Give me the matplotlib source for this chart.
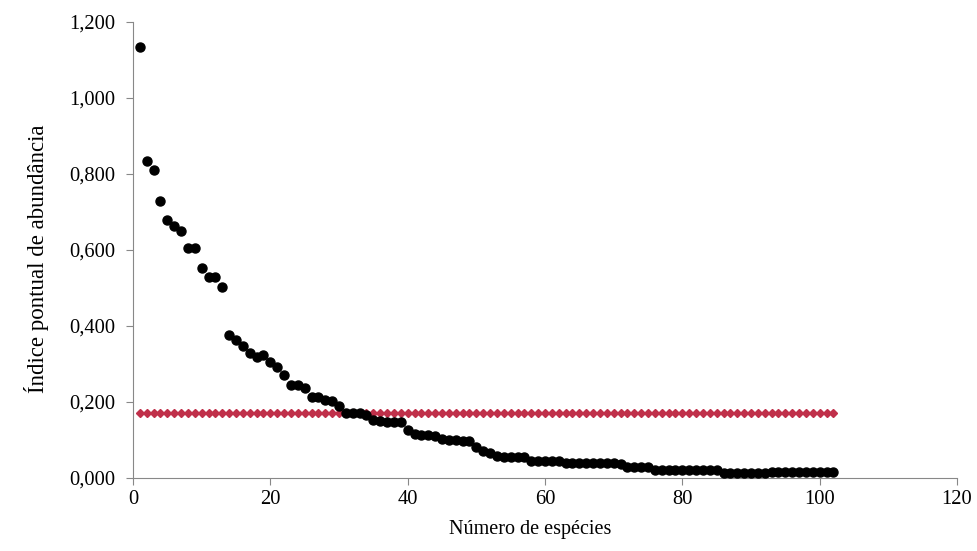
import matplotlib.pyplot as plt
from matplotlib.ticker import FuncFormatter

# species rank (1..102) and point abundance index
species = list(range(1, 103))
abundance = [
    1.135, 0.833, 0.810, 0.729, 0.678, 0.663, 0.650, 0.604, 0.604, 0.553,
    0.530, 0.530, 0.502, 0.377, 0.362, 0.347, 0.330, 0.319, 0.323, 0.306,
    0.292, 0.271, 0.245, 0.245, 0.236, 0.214, 0.213, 0.205, 0.203, 0.190,
    0.172, 0.171, 0.170, 0.165, 0.152, 0.150, 0.148, 0.148, 0.147, 0.127,
    0.115, 0.113, 0.112, 0.110, 0.102, 0.100, 0.099, 0.098, 0.097, 0.082,
    0.070, 0.065, 0.058, 0.055, 0.055, 0.055, 0.055, 0.046, 0.046, 0.046,
    0.046, 0.046, 0.040, 0.040, 0.040, 0.040, 0.040, 0.040, 0.040, 0.040,
    0.037, 0.030, 0.030, 0.030, 0.030, 0.021, 0.021, 0.021, 0.021, 0.021,
    0.021, 0.021, 0.021, 0.021, 0.021, 0.014, 0.014, 0.014, 0.014, 0.014,
    0.014, 0.014, 0.016, 0.016, 0.016, 0.016, 0.016, 0.016, 0.016, 0.016,
    0.016, 0.016,
]
mean_value = 0.172
mean_line = [mean_value] * len(species)

plt.rcParams['font.family'] = ['Liberation Serif', 'DejaVu Serif']

fig = plt.figure(figsize=(9.78, 5.51), dpi=100)
ax = fig.add_axes([0.136, 0.1325, 0.8425, 0.8275])

ax.plot(species, mean_line, linestyle='none', marker='D', markersize=3.6,
        color='#C0304A', zorder=2)
ax.plot(species, abundance, linestyle='none', marker='o', markersize=6.5,
        color='black', zorder=3)

ax.set_xlim(0, 120)
ax.set_ylim(0, 1.2)
ax.set_xticks(range(0, 121, 20))
ax.set_yticks([0, 0.2, 0.4, 0.6, 0.8, 1.0, 1.2])
ax.yaxis.set_major_formatter(FuncFormatter(lambda v, p: f'{v:.3f}'.replace('.', ',')))

for side in ['top', 'right']:
    ax.spines[side].set_visible(False)
for side in ['left', 'bottom']:
    ax.spines[side].set_color('#888888')
ax.tick_params(colors='#888888', labelcolor='black', labelsize=14.8, length=5)
ax.tick_params(axis='y', pad=8)

ax.set_xlabel('Número de espécies', fontsize=14.5)
ax.xaxis.set_label_coords(0.482, -0.092)
ax.set_ylabel('Índice pontual de abundância', fontsize=16.5)
ax.yaxis.set_label_coords(-0.102, 0.48)

fig.savefig('out.png', dpi=100)
